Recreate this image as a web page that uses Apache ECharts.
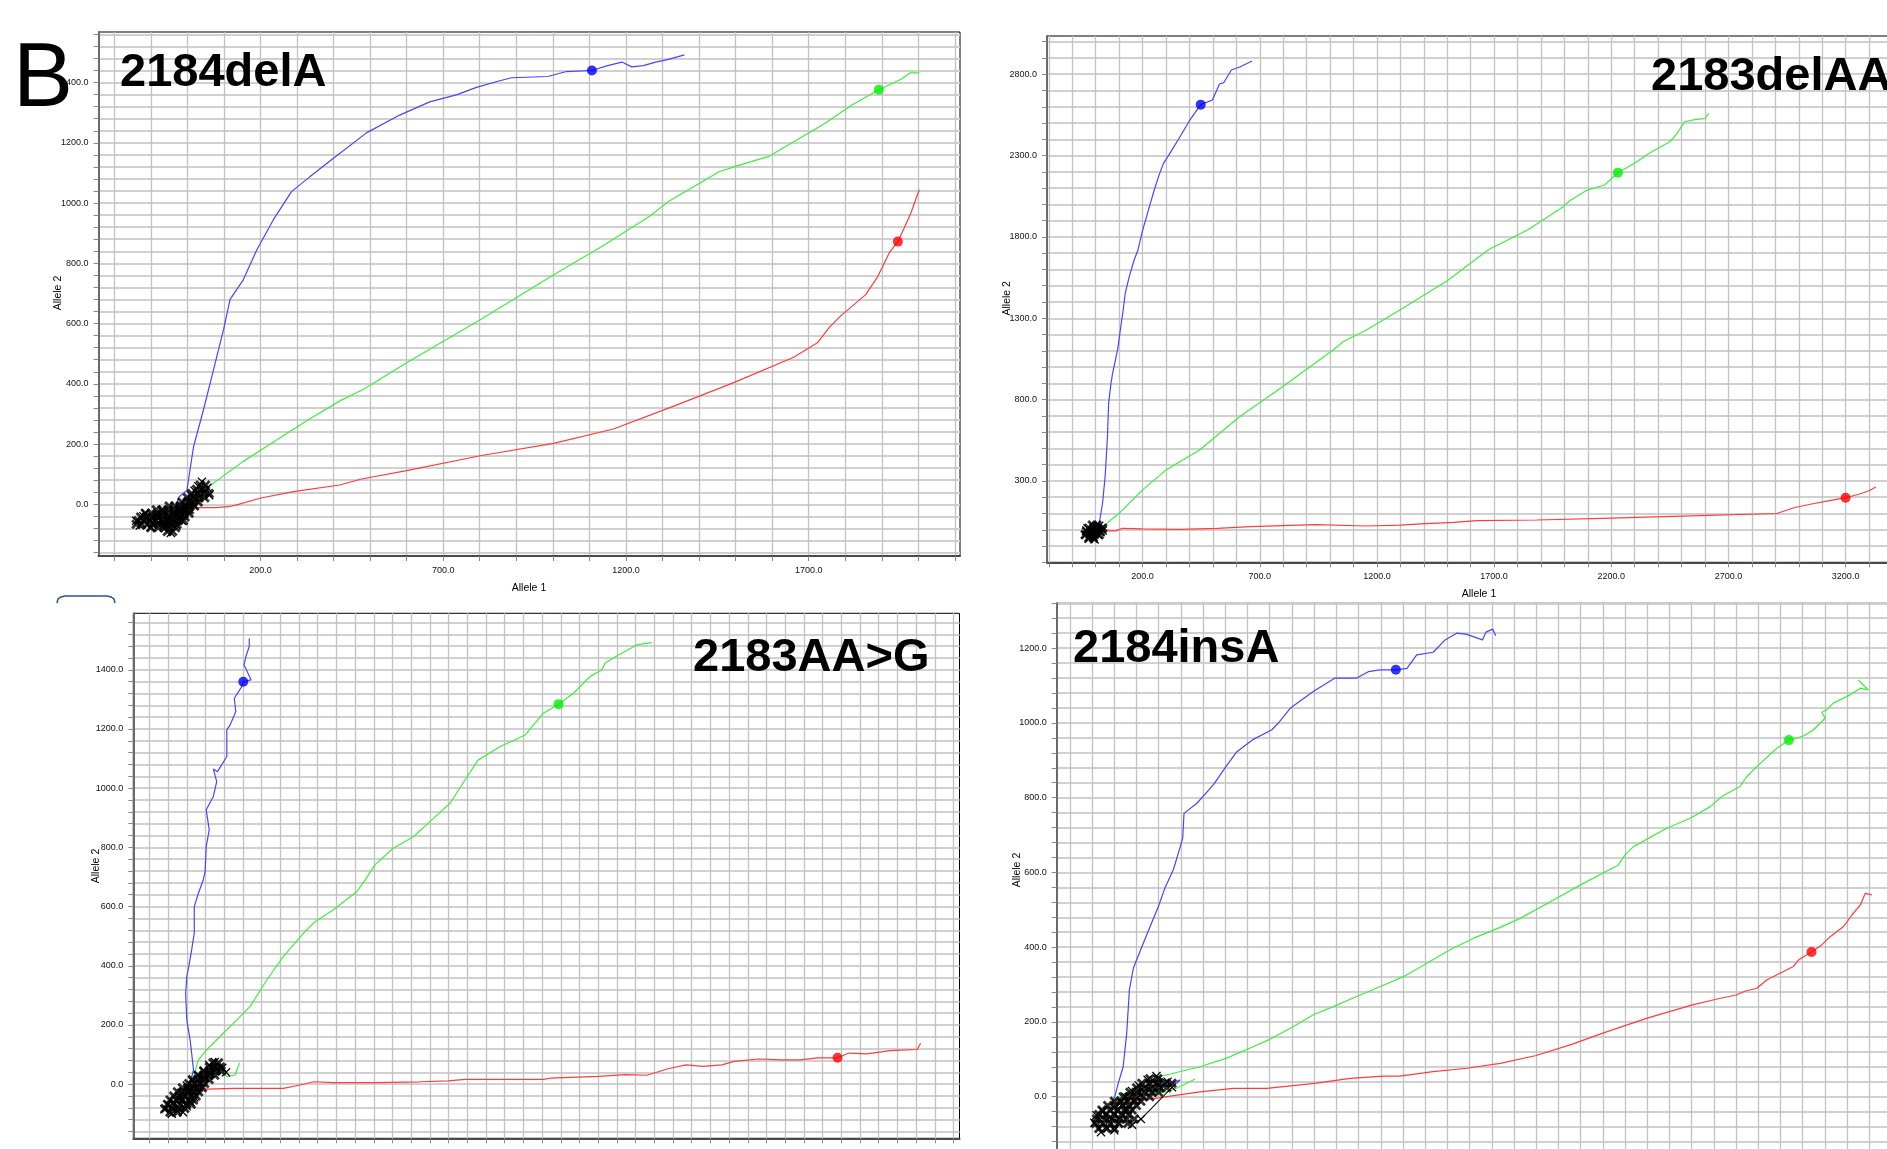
<!DOCTYPE html>
<html><head><meta charset="utf-8">
<script src="https://cdn.jsdelivr.net/npm/echarts@6/dist/echarts.min.js"></script>
<style>html,body{margin:0;padding:0;background:#fff}#c{width:1887px;height:1149px}</style>
</head><body><div id="c"></div>
<script>
// ---------- titles ----------
const panelTitles = ['2184delA', '2183delAA', '2183AA>G', '2184insA'];
const xAxisName = 'Allele 1';
const yAxisName = 'Allele 2';

// ---------- tick labels ----------
const p1XLabels = [200, 700, 1200, 1700];
const p1YLabels = [0, 200, 400, 600, 800, 1000, 1200, 1400];
const p2XLabels = [200, 700, 1200, 1700, 2200, 2700, 3200];
const p2YLabels = [300, 800, 1300, 1800, 2300, 2800];
const p3XLabels = [];
const p3YLabels = [0, 200, 400, 600, 800, 1000, 1200, 1400];
const p4XLabels = [];
const p4YLabels = [0, 200, 400, 600, 800, 1000, 1200];

// ---------- panel 1: 2184delA ----------
const p1Blue = [[-30,0],[-22,25],[-1,47],[17,191],[44,313],[67,424],[85,512],[99,579],[117,680],[153,745],[190,844],[235,944],[285,1038],[335,1087],[399,1148],[490,1233],[581,1292],[663,1336],[736,1359],[791,1384],[855,1406],[887,1416],[986,1420],[1035,1436],[1107,1440],[1150,1456],[1189,1468],[1216,1452],[1248,1456],[1281,1468],[1314,1476],[1360,1492]];
const p1Green = [[-15,0],[-10,14],[60,60],[150,140],[240,210],[330,280],[420,345],[480,380],[600,470],[805,615],[1000,760],[1134,856],[1265,956],[1315,1004],[1455,1104],[1495,1120],[1593,1156],[1744,1264],[1816,1324],[1892,1376],[1954,1412],[1977,1432],[2003,1432]];
const p1Red = [[-20,-10],[-1,-11],[76,-11],[112,-8],[135,-2],[199,20],[290,42],[417,64],[477,84],[600,112],[805,162],[1002,202],[1166,250],[1331,326],[1495,404],[1659,488],[1724,536],[1757,588],[1790,628],[1856,696],[1889,756],[1905,796],[1921,836],[1944,872],[1961,916],[1980,968],[1994,1016],[2003,1044]];
const p1Cluster = [[-140,-55],[-120,-40],[-130,-70],[-105,-50],[-115,-30],[-95,-60],[-85,-40],[-100,-75],[-75,-55],[-80,-30],[-65,-70],[-55,-45],[-70,-20],[-50,-60],[-45,-95],[-40,-50],[-35,-25],[-30,-70],[-25,-45],[-20,-15],[-15,-55],[-10,-30],[-5,-5],[0,-20],[5,10],[15,0],[10,30],[25,20],[20,45],[35,30],[30,60],[45,40],[40,75],[55,55],[60,30]];
const p1ClusterRows = [[-90,[-55,-40]],[-78,[-100,-80,-62,-48,-32]],[-66,[-140,-125,-110,-95,-78,-60,-45,-28]],[-54,[-135,-118,-102,-86,-70,-55,-40,-24,-10]],[-42,[-128,-112,-96,-80,-64,-50,-35,-20,-6]],[-30,[-115,-98,-82,-66,-52,-38,-22,-8,5]],[-18,[-85,-68,-52,-36,-22,-8,6]],[-6,[-50,-34,-20,-6,8,20]],[8,[-15,0,15,30]],[22,[0,16,32,48]],[36,[12,28,44,60]],[50,[25,42]],[64,[35,50]]];
const p1BlueDot = [1107, 1440];
const p1GreenDot = [1892, 1376];
const p1RedDot = [1944, 872];

// ---------- panel 2: 2183delAA ----------
const p2Blue = [[10,0],[15,40],[29,163],[40,326],[50,572],[55,777],[65,900],[72,962],[93,1105],[103,1208],[117,1351],[126,1454],[143,1556],[164,1658],[180,1720],[200,1840],[225,1966],[250,2090],[270,2180],[289,2252],[321,2324],[351,2396],[402,2519],[448,2613],[498,2642],[528,2740],[546,2748],[579,2826],[617,2846],[667,2881]];
const p2Green = [[20,10],[29,19],[100,101],[200,245],[300,368],[443,490],[614,695],[799,880],[1013,1105],[1055,1156],[1155,1228],[1298,1351],[1500,1530],[1679,1724],[1843,1843],[1995,1986],[2021,2021],[2097,2088],[2172,2119],[2228,2195],[2299,2253],[2362,2314],[2450,2385],[2476,2427],[2513,2508],[2551,2519],[2602,2529],[2615,2560]];
const p2Red = [[20,5],[29,9],[58,-7],[86,-7],[114,9],[200,5],[357,2],[520,9],[659,19],[797,25],[938,31],[1152,23],[1300,28],[1388,36],[1529,46],[1625,56],[1882,60],[2200,72],[2500,84],[2906,100],[2983,137],[3060,160],[3138,181],[3200,197],[3260,220],[3300,240],[3329,263]];
const p2Cluster = [[-45,-30],[-30,-55],[-20,-10],[-35,10],[-10,-45],[0,20],[-15,-25],[10,-30],[5,5],[20,-15],[-25,-40],[15,25],[-5,-60],[25,10],[-40,-5],[0,-20],[30,-5]];
const p2ClusterRows = [[-50,[-30,-10]],[-30,[-45,-25,-5,15]],[-10,[-40,-20,0,20]],[10,[-30,-10,10,30]],[30,[-15,5]]];
const p2BlueDot = [448, 2613];
const p2GreenDot = [2228, 2195];
const p2RedDot = [3200, 197];

// ---------- panel 3: 2183AA>G ----------
const p3Blue = [[-4,-8],[9,3],[18,48],[9,149],[0,217],[-3,307],[0,363],[7,409],[13,454],[20,510],[20,600],[31,645],[44,690],[49,718],[52,803],[60,859],[52,927],[71,972],[80,1022],[71,1065],[82,1056],[107,1107],[107,1197],[116,1214],[131,1259],[127,1304],[147,1343],[151,1360],[172,1366],[153,1417],[158,1445],[167,1479],[167,1507]];
const p3Green = [[-4,-8],[10,5],[18,25],[31,82],[53,116],[89,161],[134,217],[169,262],[214,352],[258,431],[312,510],[343,549],[392,589],[455,651],[477,690],[503,741],[552,797],[606,836],[650,887],[704,949],[740,1020],[778,1094],[838,1141],[905,1180],[953,1253],[994,1284],[1034,1321],[1078,1377],[1110,1400],[1118,1422],[1154,1450],[1203,1484],[1243,1492]];
const p3GreenStub = [[60,20],[98,39],[107,25],[129,31],[141,71]];
const p3Red = [[-4,-8],[53,-17],[125,-14],[258,-14],[303,-3],[339,8],[392,5],[508,5],[624,8],[699,11],[744,16],[953,16],[971,20],[1100,26],[1174,32],[1230,30],[1287,52],[1335,65],[1380,60],[1431,65],[1463,77],[1528,85],[1592,82],[1640,82],[1688,89],[1740,89],[1770,105],[1818,102],[1882,113],[1953,117],[1962,138]];
const p3Cluster = [[-60,-85],[-40,-100],[-50,-70],[-25,-90],[-35,-60],[-10,-95],[-20,-50],[0,-75],[-15,-30],[10,-60],[5,-20],[20,-45],[0,-5],[25,-15],[15,10],[35,5],[30,30],[50,20],[45,45],[65,35],[60,65],[80,50],[75,75],[95,55],[105,40]];
const p3ClusterRows = [[-95,[-45,-25]],[-82,[-58,-40,-22,-5]],[-68,[-52,-35,-18,0,12]],[-54,[-45,-28,-12,4,18]],[-40,[-35,-20,-4,10,25]],[-26,[-25,-10,5,20,32]],[-12,[-12,3,18,32,42]],[2,[5,20,35,48]],[16,[15,30,45,60]],[30,[30,45,60,75]],[44,[45,60,78,92]],[58,[60,76,90]],[72,[70,85]]];
const p3BlueDot = [151, 1360];
const p3GreenDot = [994, 1284];
const p3RedDot = [1740, 89];

// ---------- panel 4: 2184insA ----------
const p4Blue = [[-5,-10],[0,-4],[9,36],[20,80],[28,170],[34,286],[43,344],[65,410],[99,508],[114,558],[133,607],[144,651],[154,691],[157,758],[186,785],[223,834],[249,879],[276,923],[313,956],[354,981],[369,999],[396,1039],[448,1084],[497,1120],[546,1120],[572,1137],[598,1142],[634,1142],[659,1146],[681,1182],[718,1189],[745,1222],[771,1240],[794,1237],[829,1222],[837,1243],[852,1251],[859,1233]];
const p4BlueStub = [[80,10],[103,22],[125,31],[148,45],[140,35]];
const p4Green = [[-5,-10],[32,13],[50,27],[103,54],[193,80],[253,103],[306,130],[351,154],[403,187],[448,219],[493,241],[546,268],[598,294],[651,321],[704,357],[756,393],[809,424],[869,453],[914,477],[996,531],[1049,566],[1135,620],[1150,647],[1169,669],[1244,718],[1297,745],[1342,776],[1368,803],[1409,830],[1424,856],[1443,879],[1492,932],[1519,954],[1552,965],[1574,981],[1601,1013],[1593,1028],[1604,1035],[1619,1053],[1657,1075],[1680,1093],[1698,1088],[1675,1115]];
const p4GreenStub = [[20,5],[50,25],[80,15],[100,10],[125,15],[148,27],[170,40],[182,47]];
const p4Red = [[-5,-10],[43,-13],[118,0],[193,13],[268,22],[343,22],[381,27],[456,36],[531,49],[606,55],[643,55],[718,67],[794,76],[869,89],[950,110],[1030,140],[1100,170],[1200,210],[1300,245],[1360,262],[1400,272],[1420,282],[1447,290],[1469,312],[1499,330],[1529,348],[1541,366],[1570,387],[1593,406],[1612,428],[1642,455],[1661,486],[1680,513],[1691,544],[1706,540]];
const p4Cluster = [[-45,-70],[-30,-95],[-40,-50],[-15,-85],[-25,-40],[0,-90],[-10,-55],[10,-70],[0,-30],[20,-50],[15,-15],[30,-35],[25,0],[45,-10],[40,15],[60,5],[55,30],[80,20],[75,45],[100,30],[95,55],[120,40],[130,25],[60,-60],[40,-75]];
const p4ClusterRows = [[-85,[-35,-18,0]],[-72,[-42,-25,-8,10,30]],[-60,[-40,-22,-5,12,28,45]],[-48,[-35,-18,0,16,32]],[-36,[-28,-10,8,24,40]],[-24,[-15,2,18,34,50]],[-12,[0,15,30,46,60]],[0,[20,35,50,65,80]],[12,[35,52,68,85,100]],[24,[50,68,85,102,118]],[36,[62,80,98,115,130]],[48,[80,98]]];
const p4BlueDot = [634, 1142];
const p4GreenDot = [1519, 954];
const p4RedDot = [1570, 387];

// ---------- layout / styling ----------
const FONT = '"Liberation Sans", Arial, sans-serif';
const panels = [
  {box:{left:98.5, top:32, width:861.5, height:524}, xr:[-243,2114], yr:[-171.6,1567.8], xs:100, ys:40,
   xl:p1XLabels, yl:p1YLabels, blue:p1Blue, green:p1Green, red:p1Red, cluster:p1Cluster, rows:p1ClusterRows, stubs:[],
   dots:[p1BlueDot,p1GreenDot,p1RedDot]},
  {box:{left:1047, top:36, width:864, height:526.3}, xr:[-208,3479], yr:[-200,3035], xs:100, ys:100,
   xl:p2XLabels, yl:p2YLabels, blue:p2Blue, green:p2Green, red:p2Red, cluster:p2Cluster, rows:p2ClusterRows, stubs:[],
   dots:[p2BlueDot,p2GreenDot,p2RedDot]},
  {box:{left:133.3, top:613.3, width:826.2, height:525}, xr:[-143,2066], yr:[-183,1591], xs:50, ys:40,
   xl:p3XLabels, yl:p3YLabels, blue:p3Blue, green:p3Green, red:p3Red, cluster:p3Cluster, rows:p3ClusterRows,
   stubs:[[p3GreenStub,'#3cf03c']], dots:[p3BlueDot,p3GreenDot,p3RedDot]},
  {box:{left:1056.7, top:603.3, width:858.3, height:568.1}, xr:[-129.7,1803], yr:[-200,1320], xs:50, ys:40,
   xl:p4XLabels, yl:p4YLabels, blue:p4Blue, green:p4Green, red:p4Red, cluster:p4Cluster, rows:p4ClusterRows,
   stubs:[[p4BlueStub,'#4646ff'],[p4GreenStub,'#3cf03c']], dots:[p4BlueDot,p4GreenDot,p4RedDot]}
];

function steps(min, max, step){
  const a=[]; for(let v=Math.ceil(min/step)*step; v<=max+1e-9; v+=step) a.push(Math.round(v*1000)/1000); return a;
}
const X_SYM = 'path://M0,1L1,0L5,4L9,0L10,1L6,5L10,9L9,10L5,6L1,10L0,9L4,5Z';
const X_BOLD = 'path://M0,2L2,0L5,3L8,0L10,2L7,5L10,8L8,10L5,7L2,10L0,8L3,5Z';
const grids=[], xAxes=[], yAxes=[], series=[];
panels.forEach((p,i)=>{
  grids.push(Object.assign({show:true, borderColor:'#000', borderWidth:1, backgroundColor:'#fff',
    containLabel:false, outerBoundsMode:'none'}, p.box));
  const labelStyle = {fontSize:9, fontFamily:FONT, color:'#111', formatter:v=>Number(v).toFixed(1)};
  xAxes.push({type:'value', gridIndex:i, min:p.xr[0], max:p.xr[1],
    axisLine:{show:true, onZero:false, lineStyle:{color:'#4a4a4a', width:2}},
    axisTick:{show:true, customValues:steps(p.xr[0],p.xr[1],p.xs), length:5, lineStyle:{color:'#8a8a8a'}},
    axisLabel:Object.assign({show:p.xl.length>0, customValues:p.xl, margin:10}, labelStyle),
    splitLine:{show:true, lineStyle:{color:'#c2c2c2', width:1.3}}});
  yAxes.push({type:'value', gridIndex:i, min:p.yr[0], max:p.yr[1],
    axisLine:{show:true, onZero:false, lineStyle:{color:'#6a6a6a', width:2}},
    axisTick:{show:true, customValues:steps(p.yr[0],p.yr[1],p.ys), length:5, lineStyle:{color:'#8a8a8a'}},
    axisLabel:Object.assign({show:true, customValues:p.yl, margin:10}, labelStyle),
    splitLine:{show:true, lineStyle:{color:'#d0d0d0', width:2}}});
  const line=(data,color,z)=>({type:'line', xAxisIndex:i, yAxisIndex:i, data, showSymbol:false, symbol:'none',
    lineStyle:{color, width:1.2}, silent:true, animation:false, z});
  series.push(line(p.blue,'#4646ff',3), line(p.green,'#3cf03c',3), line(p.red,'#ff3c3c',3));
  p.stubs.forEach(s=>series.push(line(s[0],s[1],3)));
  const blob=[]; p.rows.forEach(r=>r[1].forEach(x=>blob.push([x,r[0]])));
  series.push({type:'scatter', xAxisIndex:i, yAxisIndex:i, data:blob, symbol:X_BOLD, symbolSize:10,
    itemStyle:{color:'#000'}, silent:true, animation:false, z:4});
  series.push({type:'line', xAxisIndex:i, yAxisIndex:i, data:p.cluster, showSymbol:true, symbol:X_SYM, symbolSize:9,
    itemStyle:{color:'#000'}, lineStyle:{color:'#111', width:1.1}, silent:true, animation:false, z:4});
  const dotColors=['#0000ff','#00ee00','#ff0000'];
  p.dots.forEach((d,k)=>series.push({type:'scatter', xAxisIndex:i, yAxisIndex:i, data:[d], symbolSize:10,
    itemStyle:{color:dotColors[k]}, silent:true, animation:false, z:5}));
});

const txt=(text,x,y,font,extra)=>Object.assign({type:'text', x, y, z:100, silent:true,
  style:{text, x:0, y:0, font, fill:'#000', align:'left', verticalAlign:'middle'}}, extra||{});
const titleFont = 'bold 47px ' + FONT;
const nameFont = '10.5px ' + FONT;
const cname=(text,x,y,rot)=>({type:'text', x, y, rotation:rot||0, z:100, silent:true,
  style:{text, font:nameFont, fill:'#000', align:'center', verticalAlign:'middle'}});
const graphic = [
  txt('B', 13, 81, '90px ' + FONT),
  txt(panelTitles[0], 120, 73.5, titleFont),
  txt(panelTitles[1], 1651, 77, titleFont),
  txt(panelTitles[2], 693, 658, titleFont),
  txt(panelTitles[3], 1073, 649, titleFont),
  cname(xAxisName, 529, 588.5),
  cname(xAxisName, 1479, 594),
  cname(yAxisName, 58.3, 293, Math.PI/2),
  cname(yAxisName, 1007.3, 298.3, Math.PI/2),
  cname(yAxisName, 96, 866, Math.PI/2),
  cname(yAxisName, 1017, 870, Math.PI/2),
  {type:'polyline', z:100, silent:true, shape:{points:[[57,603],[58,599],[61,597],[65,596],[107,596],[111,597],[114,599],[115,603]]},
   style:{fill:null, stroke:'#2a5588', lineWidth:1.5}}
];

const chart = echarts.init(document.getElementById('c'), null, {renderer:'canvas'});
chart.setOption({animation:false, backgroundColor:'#fff', grid:grids, xAxis:xAxes, yAxis:yAxes, series, graphic});
</script></body></html>
